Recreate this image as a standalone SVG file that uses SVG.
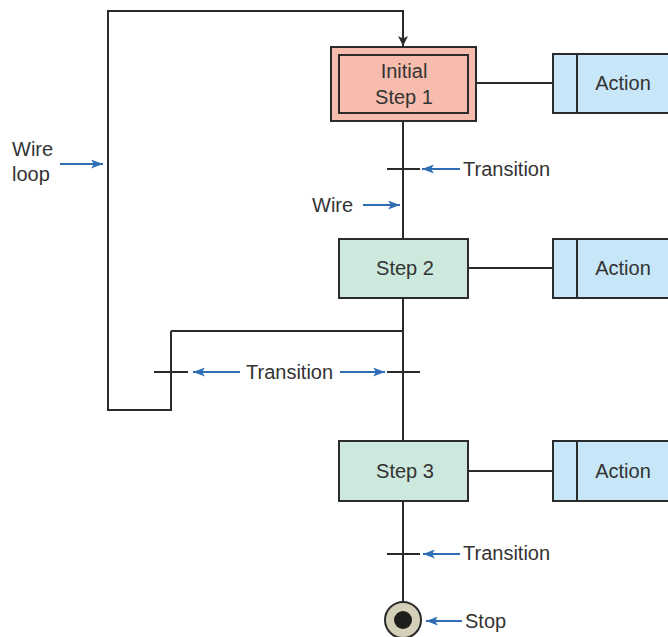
<svg xmlns="http://www.w3.org/2000/svg" width="668" height="637" viewBox="0 0 668 637">
  <style>
    .wire { fill: none; stroke: #2b2b2b; stroke-width: 2; }
    .tick { fill: none; stroke: #2b2b2b; stroke-width: 2; }
    .note { fill: none; stroke: #2f6db5; stroke-width: 2; marker-end: url(#blueHead); }
    .box { stroke: #2b2b2b; stroke-width: 2; }
    .init { fill: #f8bcae; }
    .step { fill: #cde8dc; }
    .act { fill: #c7e6f8; }
    text { font-family: "Liberation Sans", Arial, sans-serif; font-size: 20px; fill: #333; }
    .c { text-anchor: middle; }
  </style>
  <defs>
    <marker id="blueHead" viewBox="0 0 12 9" refX="12" refY="4.5" markerWidth="12" markerHeight="9" markerUnits="userSpaceOnUse" orient="auto">
      <path d="M0,0 L12,4.5 L0,9 L3,4.5 Z" fill="#2f6db5"/>
    </marker>
    <marker id="blackHead" viewBox="0 0 10 10" refX="10" refY="5" markerWidth="10" markerHeight="10" markerUnits="userSpaceOnUse" orient="auto">
      <path d="M0,0 L10,5 L0,10 L2.5,5 Z" fill="#2b2b2b"/>
    </marker>
  </defs>

  <!-- wiring -->
  <g id="connectors">
    <path class="wire" d="M171,331 L403,331"/>
    <path class="wire" d="M171,331 L171,410 L108,410 L108,11 L403,11 L403,46" marker-end="url(#blackHead)"/>
    <path class="wire" d="M403,121 L403,239"/>
    <path class="wire" d="M403,298 L403,441"/>
    <path class="wire" d="M403,501 L403,602"/>
    <path class="wire" d="M476,83 L553,83"/>
    <path class="wire" d="M468,268 L553,268"/>
    <path class="wire" d="M468,471 L553,471"/>
    <!-- transitions -->
    <path class="tick" d="M387,169 L420,169"/>
    <path class="tick" d="M154,372 L188,372"/>
    <path class="tick" d="M387,372 L420,372"/>
    <path class="tick" d="M387,554 L420,554"/>
  </g>

  <!-- annotation arrows and labels -->
  <g id="annotations">
    <line class="note" x1="60" y1="164" x2="103" y2="164"/>
    <line class="note" x1="460" y1="169" x2="422" y2="169"/>
    <line class="note" x1="363" y1="205" x2="400" y2="205"/>
    <line class="note" x1="240" y1="372" x2="193" y2="372"/>
    <line class="note" x1="340" y1="372" x2="385" y2="372"/>
    <line class="note" x1="460" y1="554" x2="423" y2="554"/>
    <line class="note" x1="462" y1="621" x2="426" y2="621"/>
    <text x="12" y="156">Wire</text>
    <text x="12" y="181">loop</text>
    <text x="463" y="176">Transition</text>
    <text x="312" y="212">Wire</text>
    <text x="246" y="379">Transition</text>
    <text x="463" y="560">Transition</text>
    <text x="465" y="628">Stop</text>
  </g>

  <g id="step1">
    <rect class="box init" x="331" y="47" width="145" height="74"/>
    <rect class="box init" x="339" y="55" width="129" height="58"/>
    <text class="c" x="404" y="78">Initial</text>
    <text class="c" x="404" y="104">Step 1</text>
  </g>
  <g id="action1">
    <rect class="box act" x="553" y="54" width="120" height="59"/>
    <line class="tick" x1="577" y1="54" x2="577" y2="113"/>
    <text class="c" x="623" y="90">Action</text>
  </g>

  <g id="step2">
    <rect class="box step" x="339" y="239" width="129" height="59"/>
    <text class="c" x="405" y="275">Step 2</text>
  </g>
  <g id="action2">
    <rect class="box act" x="553" y="239" width="120" height="59"/>
    <line class="tick" x1="577" y1="239" x2="577" y2="298"/>
    <text class="c" x="623" y="275">Action</text>
  </g>

  <g id="step3">
    <rect class="box step" x="339" y="441" width="129" height="60"/>
    <text class="c" x="405" y="478">Step 3</text>
  </g>
  <g id="action3">
    <rect class="box act" x="553" y="441" width="120" height="60"/>
    <line class="tick" x1="577" y1="441" x2="577" y2="501"/>
    <text class="c" x="623" y="478">Action</text>
  </g>

  <g id="stop">
    <circle cx="403" cy="620" r="18" fill="#d3cfb8" stroke="#2b2b2b" stroke-width="2"/>
    <circle cx="403" cy="620" r="9" fill="#1e1e1e"/>
  </g>
</svg>
